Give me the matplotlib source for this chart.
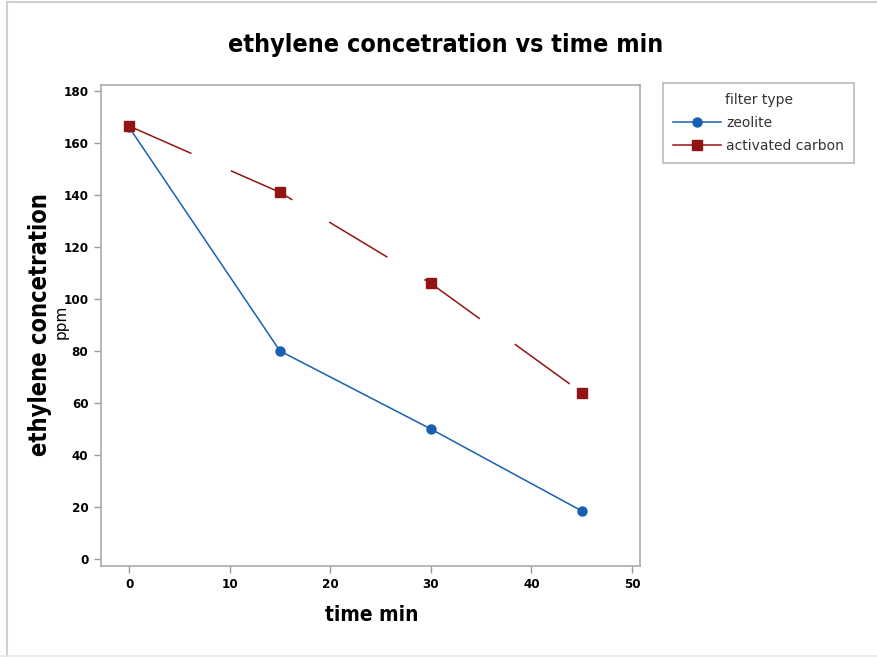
import matplotlib
matplotlib.use("Agg")
import matplotlib.pyplot as plt
from matplotlib.lines import Line2D

# data
time_min = [0, 15, 30, 45]
zeolite = [166, 80, 50, 18.5]
activated_carbon = [166.5, 141, 106, 64]
series_names = ["zeolite", "activated carbon"]
x_ticks = [0, 10, 20, 30, 40, 50]
y_ticks = [0, 20, 40, 60, 80, 100, 120, 140, 160, 180]

blue = "#1a5fb4"
red = "#921515"
bold_font = dict(family="DejaVu Sans", fontweight="bold", fontstretch="condensed")

plt.rcParams["lines.scale_dashes"] = False

fig = plt.figure(figsize=(8.77, 6.57), dpi=100)
ax = fig.add_axes([101/877, 1 - 566/657, (640 - 101)/877, (566 - 85)/657])

ax.plot(time_min, zeolite, color=blue, lw=1.1, marker="o", ms=6.5,
        label=series_names[0])
ax.plot(time_min, activated_carbon, color=red, lw=1.1, marker="s", ms=7.5,
        dashes=(49, 31), label=series_names[1])

ax.set_xlim(-2.8, 50.8)
ax.set_ylim(-2.7, 182.3)
ax.set_xticks(x_ticks)
ax.set_yticks(y_ticks)
for lab in ax.get_xticklabels() + ax.get_yticklabels():
    lab.set_fontfamily("DejaVu Sans")
    lab.set_fontweight("bold")
    lab.set_fontstretch("condensed")
    lab.set_fontsize(9.5)
ax.tick_params(colors="#999999", labelcolor="black", length=5, width=1, pad=4)
for s in ax.spines.values():
    s.set_color("#aaaaaa")
    s.set_linewidth(1.2)

fig.text(446/877, 1 - 45/657, "ethylene concetration vs time min", ha="center",
         va="center", fontsize=18, **bold_font)
fig.text(372/877, 1 - 615/657, "time min", ha="center", va="center",
         fontsize=15, **bold_font)
fig.text(40/877, 1 - 325/657, "ethylene concetration", ha="center", va="center",
         rotation=90, fontsize=17, **bold_font)
fig.text(61/877, 1 - 322/657, "ppm", ha="center", va="center", rotation=90,
         fontsize=11, family="DejaVu Sans")

handles = [Line2D([], [], color=blue, lw=1.1, marker="o", ms=6.5),
           Line2D([], [], color=red, lw=1.1, marker="s", ms=7.5)]
leg = fig.legend(handles, series_names, title="filter type",
                 loc="upper left", bbox_to_anchor=(663/877, 1 - 83/657),
                 fontsize=10, title_fontsize=10, frameon=True, fancybox=False,
                 edgecolor="#aaaaaa", borderpad=0.75, handlelength=3.4,
                 labelspacing=0.62, handletextpad=0.4, borderaxespad=0)
leg.get_frame().set_linewidth(1.2)
for t in leg.get_texts():
    t.set_color("#333333")
leg.get_title().set_color("#333333")

# light grey border of the exported picture
border = dict(color="#d0d0d0", lw=1.5, transform=fig.transFigure)
fig.add_artist(Line2D([7/877, 1], [1 - 1.5/657, 1 - 1.5/657], **border))
fig.add_artist(Line2D([7/877, 7/877], [0, 1 - 1.5/657], **border))
fig.add_artist(Line2D([0, 1], [1/657, 1/657], color="#e8e8e8", lw=1.2,
                      transform=fig.transFigure))

fig.savefig("out.png", dpi=100)
